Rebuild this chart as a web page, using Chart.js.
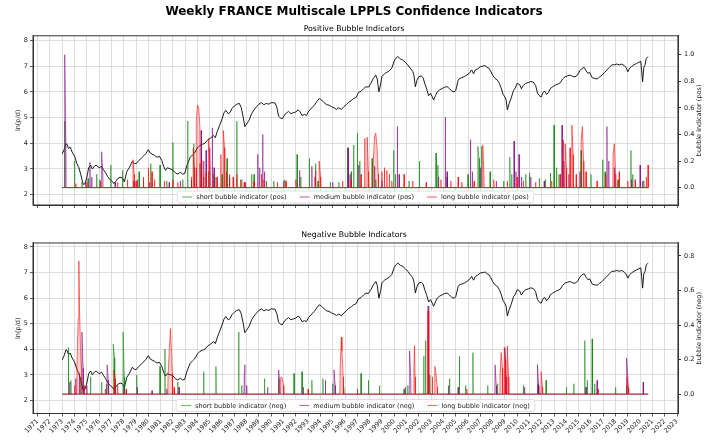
<!DOCTYPE html>
<html>
<head>
<meta charset="utf-8">
<script src="https://cdn.jsdelivr.net/npm/chart.js@4.4.1/dist/chart.umd.min.js"></script>
<style>
html, body { margin: 0; padding: 0; background: #fff; }
#wrap { position: relative; width: 708px; height: 440px; }
#c1 { position: absolute; left: 0; top: 0; }
#c2 { position: absolute; left: 0; top: 222px; }
</style>
</head>
<body>
<div id="wrap">
  <canvas id="c1" width="708" height="222"></canvas>
  <canvas id="c2" width="708" height="218"></canvas>
</div>
<script>
// tick labels
const yearTicks = [1971, 1972, 1973, 1974, 1975, 1976, 1977, 1978, 1979, 1980, 1981, 1982, 1983, 1984,
  1985, 1986, 1987, 1988, 1989, 1990, 1991, 1992, 1993, 1994, 1995, 1996, 1997, 1998, 1999, 2000,
  2001, 2002, 2003, 2004, 2005, 2006, 2007, 2008, 2009, 2010, 2011, 2012, 2013, 2014, 2015, 2016,
  2017, 2018, 2019, 2020, 2021, 2022, 2023];
const lnTicks = [2, 3, 4, 5, 6, 7, 8];
const posTicks = [0, 0.2, 0.4, 0.6, 0.8, 1.0];
const negTicks = [0, 0.2, 0.4, 0.6, 0.8];

// log price, [year, ln value]
const price = [
  [1973.0, 3.59], [1973.15, 3.75], [1973.3, 3.98], [1973.4, 3.95], [1973.5, 3.80], [1973.65, 3.85],
  [1973.8, 3.66], [1974.0, 3.50], [1974.2, 3.20], [1974.35, 3.05], [1974.5, 2.80], [1974.7, 2.40],
  [1974.85, 2.43], [1975.0, 2.68], [1975.15, 3.05], [1975.3, 3.15], [1975.45, 3.00], [1975.6, 3.10],
  [1975.75, 3.15], [1976.0, 3.05], [1976.2, 3.10], [1976.35, 2.98], [1976.5, 2.87], [1976.7, 2.70],
  [1976.85, 2.60], [1977.0, 2.55], [1977.2, 2.43], [1977.35, 2.52], [1977.5, 2.62], [1977.7, 2.68],
  [1977.9, 2.65], [1978.05, 2.50], [1978.25, 2.90], [1978.45, 3.05], [1978.7, 3.30], [1978.85, 3.22],
  [1979.0, 3.20], [1979.2, 3.32], [1979.4, 3.40], [1979.55, 3.48], [1979.8, 3.60], [1980.0, 3.75],
  [1980.15, 3.62], [1980.3, 3.58], [1980.5, 3.53], [1980.7, 3.46], [1980.9, 3.49], [1981.1, 3.33],
  [1981.25, 3.10], [1981.4, 2.95], [1981.55, 3.05], [1981.8, 3.00], [1982.0, 2.96], [1982.2, 2.85],
  [1982.4, 2.80], [1982.6, 2.87], [1982.8, 2.80], [1982.95, 2.82], [1983.15, 3.15], [1983.4, 3.45],
  [1983.6, 3.55], [1983.75, 3.62], [1984.0, 3.82], [1984.2, 3.92], [1984.4, 3.96], [1984.6, 4.00],
  [1984.8, 4.12], [1985.05, 4.20], [1985.3, 4.30], [1985.45, 4.22], [1985.6, 4.45], [1985.8, 4.70],
  [1986.0, 4.95], [1986.15, 5.18], [1986.3, 5.28], [1986.5, 5.15], [1986.65, 5.20], [1986.8, 5.35],
  [1987.0, 5.45], [1987.2, 5.52], [1987.4, 5.55], [1987.55, 5.40], [1987.7, 5.05], [1987.85, 4.65],
  [1988.0, 4.75], [1988.2, 4.90], [1988.4, 5.15], [1988.6, 5.30], [1988.8, 5.42], [1989.0, 5.52],
  [1989.2, 5.58], [1989.4, 5.50], [1989.6, 5.55], [1989.8, 5.52], [1990.0, 5.58], [1990.3, 5.57],
  [1990.45, 5.40], [1990.6, 5.05], [1990.75, 4.98], [1990.9, 4.96], [1991.1, 5.12], [1991.25, 5.18],
  [1991.4, 5.24], [1991.6, 5.15], [1991.75, 5.18], [1992.0, 5.22], [1992.2, 5.30], [1992.35, 5.22],
  [1992.5, 5.08], [1992.7, 5.12], [1992.85, 5.08], [1993.05, 5.25], [1993.3, 5.38], [1993.5, 5.48],
  [1993.7, 5.62], [1993.9, 5.74], [1994.1, 5.68], [1994.3, 5.58], [1994.5, 5.50], [1994.7, 5.48],
  [1994.9, 5.42], [1995.1, 5.38], [1995.3, 5.32], [1995.5, 5.38], [1995.7, 5.31], [1995.9, 5.42],
  [1996.1, 5.50], [1996.3, 5.60], [1996.5, 5.66], [1996.7, 5.74], [1996.9, 5.78], [1997.1, 5.98],
  [1997.3, 6.02], [1997.5, 6.12], [1997.7, 6.20], [1997.9, 6.18], [1998.1, 6.33], [1998.3, 6.52],
  [1998.5, 6.65], [1998.62, 6.50], [1998.75, 6.00], [1998.9, 6.30], [1999.0, 6.60], [1999.2, 6.70],
  [1999.4, 6.76], [1999.6, 6.82], [1999.8, 6.92], [2000.0, 7.20], [2000.15, 7.31], [2000.3, 7.37],
  [2000.5, 7.28], [2000.7, 7.24], [2000.9, 7.15], [2001.1, 7.05], [2001.3, 6.92], [2001.5, 6.80],
  [2001.6, 6.65], [2001.72, 6.20], [2001.85, 6.45], [2002.0, 6.59], [2002.2, 6.62], [2002.35, 6.55],
  [2002.5, 6.30], [2002.65, 6.10], [2002.8, 5.85], [2002.95, 5.94], [2003.1, 5.80], [2003.2, 5.68],
  [2003.35, 5.85], [2003.5, 6.00], [2003.7, 6.08], [2003.9, 6.13], [2004.1, 6.18], [2004.3, 6.20],
  [2004.5, 6.12], [2004.7, 6.02], [2004.9, 6.00], [2005.0, 6.05], [2005.2, 6.45], [2005.3, 6.52],
  [2005.5, 6.55], [2005.7, 6.59], [2005.9, 6.65], [2006.1, 6.72], [2006.3, 6.85], [2006.45, 6.70],
  [2006.6, 6.85], [2006.8, 6.90], [2007.0, 6.98], [2007.2, 7.00], [2007.4, 7.02], [2007.55, 6.95],
  [2007.7, 6.92], [2007.85, 6.80], [2008.0, 6.65], [2008.2, 6.52], [2008.4, 6.45], [2008.55, 6.33],
  [2008.7, 6.15], [2008.85, 5.90], [2009.0, 5.80], [2009.1, 5.68], [2009.2, 5.30], [2009.35, 5.55],
  [2009.5, 5.74], [2009.7, 6.05], [2009.85, 6.15], [2010.0, 6.33], [2010.2, 6.28], [2010.35, 6.12],
  [2010.5, 6.25], [2010.7, 6.33], [2010.9, 6.36], [2011.1, 6.40], [2011.3, 6.38], [2011.5, 6.25],
  [2011.65, 5.95], [2011.8, 5.85], [2011.95, 5.80], [2012.1, 5.98], [2012.25, 6.02], [2012.4, 5.90],
  [2012.55, 5.98], [2012.7, 6.13], [2012.9, 6.20], [2013.1, 6.26], [2013.3, 6.30], [2013.5, 6.35],
  [2013.7, 6.50], [2013.9, 6.59], [2014.1, 6.62], [2014.3, 6.65], [2014.5, 6.60], [2014.7, 6.58],
  [2014.9, 6.65], [2015.1, 6.82], [2015.3, 6.92], [2015.45, 6.95], [2015.6, 6.82], [2015.75, 6.72],
  [2015.9, 6.75], [2016.1, 6.55], [2016.3, 6.52], [2016.5, 6.50], [2016.7, 6.58], [2016.9, 6.65],
  [2017.1, 6.75], [2017.3, 6.85], [2017.5, 6.95], [2017.7, 7.05], [2017.9, 7.05], [2018.1, 7.08],
  [2018.3, 7.05], [2018.5, 7.08], [2018.7, 7.02], [2018.85, 6.95], [2019.0, 6.78], [2019.15, 6.92],
  [2019.3, 6.98], [2019.5, 7.05], [2019.7, 7.10], [2019.9, 7.15], [2020.05, 7.18], [2020.12, 6.85],
  [2020.2, 6.39], [2020.3, 6.95], [2020.4, 7.05], [2020.5, 7.30], [2020.6, 7.35], [2020.66, 7.37]
];

// positive bubble indicators, [year, value]
const posShort = [
  [1973.2, 0.50], [1974.0, 0.20], [1974.6, 0.04], [1975.1, 0.07], [1975.8, 0.10], [1976.05, 0.06],
  [1976.95, 0.17], [1977.9, 0.13], [1979.25, 0.12], [1979.6, 0.06], [1980.2, 0.18], [1980.95, 0.17],
  [1981.5, 0.05], [1982.0, 0.34], [1982.8, 0.06], [1983.2, 0.50], [1983.7, 0.33], [1984.2, 0.18],
  [1984.9, 0.12], [1985.5, 0.08], [1986.0, 0.10], [1986.4, 0.22], [1987.2, 0.50], [1987.6, 0.06],
  [1988.4, 0.10], [1988.6, 0.10], [1989.6, 0.05], [1990.2, 0.05], [1991.1, 0.06], [1992.1, 0.25],
  [1992.4, 0.08], [1993.1, 0.22], [1993.6, 0.18], [1993.8, 0.05], [1994.8, 0.04], [1995.5, 0.04],
  [1996.2, 0.30], [1996.5, 0.12], [1996.7, 0.32], [1997.0, 0.41], [1997.2, 0.20], [1998.2, 0.22],
  [1998.5, 0.06], [1999.95, 0.28], [2000.1, 0.10], [2001.2, 0.05], [2002.05, 0.20], [2003.4, 0.26],
  [2003.55, 0.17], [2004.3, 0.08], [2006.0, 0.10], [2006.8, 0.31], [2006.9, 0.22], [2007.1, 0.31],
  [2007.8, 0.12], [2008.9, 0.05], [2009.4, 0.23], [2009.55, 0.10], [2010.7, 0.10], [2011.0, 0.11],
  [2011.8, 0.07], [2012.3, 0.06], [2012.7, 0.11], [2013.0, 0.47], [2013.2, 0.15], [2013.4, 0.10],
  [2014.0, 0.08], [2015.2, 0.28], [2016.0, 0.10], [2016.95, 0.21], [2017.15, 0.12], [2018.2, 0.06],
  [2019.25, 0.28], [2019.4, 0.10], [2020.3, 0.05]
];
const posMedium = [
  [1973.2, 1.00], [1973.3, 0.30], [1974.9, 0.05], [1975.25, 0.19], [1975.4, 0.08], [1976.2, 0.27],
  [1976.3, 0.10], [1977.3, 0.04], [1978.8, 0.05], [1979.1, 0.06], [1980.1, 0.04], [1981.7, 0.04],
  [1982.6, 0.05], [1983.5, 0.06], [1983.9, 0.15], [1984.3, 0.43], [1984.5, 0.20], [1984.7, 0.28],
  [1985.0, 0.30], [1985.2, 0.45], [1985.35, 0.15], [1986.6, 0.08], [1987.9, 0.04], [1988.9, 0.25],
  [1989.05, 0.15], [1989.3, 0.40], [1989.45, 0.12], [1991.0, 0.05], [1992.3, 0.13], [1993.3, 0.16],
  [1993.55, 0.08], [1995.0, 0.04], [1996.25, 0.30], [1996.4, 0.10], [1997.1, 0.17], [1998.4, 0.16],
  [1999.0, 0.05], [2000.25, 0.46], [2000.4, 0.10], [2003.6, 0.08], [2004.15, 0.53], [2004.3, 0.12],
  [2006.2, 0.36], [2006.35, 0.12], [2007.0, 0.15], [2008.3, 0.05], [2009.75, 0.35], [2009.9, 0.12],
  [2010.15, 0.25], [2010.35, 0.08], [2011.1, 0.08], [2012.2, 0.05], [2013.65, 0.47], [2013.8, 0.20],
  [2014.2, 0.10], [2015.1, 0.12], [2017.3, 0.46], [2017.45, 0.20], [2017.9, 0.15], [2019.3, 0.06],
  [2020.0, 0.17], [2020.2, 0.05]
];
const posLong = [
  [1974.1, 0.03], [1975.0, 0.04], [1976.1, 0.05], [1977.5, 0.04], [1978.3, 0.06], [1978.75, 0.21],
  [1978.85, 0.10], [1979.0, 0.05], [1979.6, 0.08], [1980.0, 0.15], [1980.3, 0.12], [1980.5, 0.06],
  [1981.3, 0.05], [1982.0, 0.06], [1982.4, 0.04], [1983.5, 0.08], [1983.65, 0.30], [1983.75, 0.15],
  [1983.9, 0.50], [1984.0, 0.62], [1984.1, 0.60], [1984.2, 0.45], [1984.35, 0.21], [1984.5, 0.08],
  [1984.7, 0.12], [1984.9, 0.37], [1985.0, 0.15], [1985.3, 0.10], [1985.6, 0.08], [1985.9, 0.25],
  [1986.1, 0.43], [1986.2, 0.30], [1986.35, 0.12], [1986.6, 0.10], [1986.9, 0.08], [1987.2, 0.10],
  [1987.5, 0.06], [1987.8, 0.04], [1988.6, 0.05], [1989.2, 0.10], [1989.4, 0.06], [1990.5, 0.04],
  [1991.2, 0.05], [1992.0, 0.06], [1993.6, 0.13], [1993.9, 0.20], [1994.0, 0.08], [1995.8, 0.05],
  [1996.5, 0.06], [1997.3, 0.10], [1997.6, 0.37], [1997.8, 0.38], [1997.9, 0.12], [1998.3, 0.20],
  [1998.4, 0.39], [1998.5, 0.41], [1998.6, 0.30], [1998.7, 0.10], [1999.0, 0.12], [1999.2, 0.15],
  [1999.4, 0.13], [1999.6, 0.10], [1999.8, 0.05], [2000.8, 0.10], [2001.5, 0.05], [2002.6, 0.04],
  [2003.8, 0.06], [2004.6, 0.05], [2005.2, 0.08], [2005.5, 0.04], [2006.5, 0.05], [2007.2, 0.32],
  [2007.3, 0.10], [2008.1, 0.06], [2009.2, 0.05], [2010.0, 0.08], [2010.5, 0.05], [2011.5, 0.04],
  [2012.8, 0.05], [2013.5, 0.10], [2013.75, 0.36], [2013.9, 0.33], [2014.0, 0.15], [2014.3, 0.30],
  [2014.45, 0.47], [2014.55, 0.25], [2014.8, 0.10], [2015.2, 0.35], [2015.3, 0.46], [2015.4, 0.20],
  [2015.6, 0.12], [2016.5, 0.05], [2017.2, 0.10], [2017.8, 0.25], [2017.9, 0.33], [2018.0, 0.10],
  [2018.3, 0.12], [2019.0, 0.05], [2019.6, 0.06], [2020.5, 0.08], [2020.65, 0.17]
];

// negative bubble indicators, [year, value]
const negShort = [
  [1973.5, 0.27], [1973.7, 0.08], [1974.5, 0.10], [1975.3, 0.10], [1976.2, 0.07], [1976.6, 0.06],
  [1977.15, 0.29], [1977.25, 0.21], [1977.95, 0.36], [1978.05, 0.10], [1979.05, 0.11], [1980.95, 0.16],
  [1981.35, 0.26], [1982.4, 0.07], [1984.5, 0.13], [1985.5, 0.16], [1987.35, 0.36], [1987.6, 0.05],
  [1989.45, 0.09], [1990.6, 0.09], [1991.85, 0.12], [1992.5, 0.13], [1993.3, 0.08], [1994.2, 0.09],
  [1995.0, 0.06], [1995.9, 0.04], [1997.3, 0.12], [1997.9, 0.08], [1998.8, 0.05], [2000.8, 0.03],
  [2001.1, 0.05], [2002.4, 0.22], [2002.55, 0.31], [2002.9, 0.11], [2004.5, 0.09], [2005.3, 0.22],
  [2005.8, 0.05], [2006.4, 0.24], [2007.6, 0.05], [2008.4, 0.06], [2010.5, 0.05], [2011.7, 0.06],
  [2012.35, 0.08], [2014.0, 0.04], [2014.6, 0.06], [2015.5, 0.31], [2015.7, 0.08], [2016.1, 0.32],
  [2016.3, 0.06], [2018.0, 0.04], [2018.9, 0.05]
];
const negMedium = [
  [1973.6, 0.07], [1974.1, 0.09], [1974.4, 0.12], [1974.6, 0.36], [1974.7, 0.15], [1975.0, 0.05],
  [1976.65, 0.17], [1976.75, 0.08], [1977.3, 0.05], [1978.0, 0.04], [1979.1, 0.04], [1980.3, 0.02],
  [1981.5, 0.03], [1982.5, 0.04], [1987.8, 0.12], [1987.85, 0.17], [1988.0, 0.05], [1989.7, 0.04],
  [1990.6, 0.14], [1990.7, 0.06], [1992.6, 0.04], [1994.4, 0.08], [1995.1, 0.14], [1995.2, 0.05],
  [1997.0, 0.03], [2000.9, 0.04], [2001.25, 0.25], [2001.35, 0.08], [2002.75, 0.51], [2002.8, 0.20],
  [2004.4, 0.05], [2005.2, 0.04], [2008.2, 0.17], [2008.3, 0.05], [2009.0, 0.27], [2009.1, 0.10],
  [2010.6, 0.04], [2011.65, 0.17], [2011.75, 0.05], [2015.6, 0.04], [2016.5, 0.08], [2018.9, 0.21],
  [2019.0, 0.10], [2020.25, 0.07]
];
const negLong = [
  [1974.0, 0.05], [1974.2, 0.20], [1974.3, 0.44], [1974.35, 0.77], [1974.4, 0.50], [1974.5, 0.22],
  [1974.6, 0.10], [1974.8, 0.05], [1976.5, 0.03], [1977.2, 0.14], [1977.3, 0.09], [1977.5, 0.05],
  [1978.2, 0.03], [1981.6, 0.10], [1981.7, 0.25], [1981.8, 0.38], [1981.85, 0.30], [1981.95, 0.12],
  [1982.1, 0.04], [1990.7, 0.06], [1990.8, 0.10], [1990.9, 0.09], [1991.0, 0.05], [1993.0, 0.03],
  [1995.6, 0.15], [1995.7, 0.33], [1995.75, 0.25], [1995.85, 0.10], [2001.6, 0.15], [2001.65, 0.28],
  [2001.7, 0.10], [2002.7, 0.30], [2002.75, 0.48], [2002.8, 0.25], [2003.1, 0.10], [2003.3, 0.16],
  [2003.4, 0.12], [2003.5, 0.04], [2005.9, 0.03], [2008.6, 0.10], [2008.7, 0.24], [2008.8, 0.15],
  [2008.95, 0.27], [2009.05, 0.20], [2009.2, 0.28], [2009.3, 0.10], [2011.95, 0.13], [2012.05, 0.04],
  [2016.6, 0.03], [2018.95, 0.10], [2019.05, 0.04]
];

Chart.defaults.font.family = '"DejaVu Sans", sans-serif';
Chart.defaults.font.size = 6.5;
Chart.defaults.color = '#222';
Chart.defaults.animation = false;

const t0 = price[0][0];
const t1 = price[price.length - 1][0];

// indicator is zero between events; close events are joined into one hump
function spikeSeries(events) {
  const ev = events.slice().sort((a, b) => a[0] - b[0]);
  const w = 0.02, join = 0.12;
  const pts = [{ x: t0, y: 0 }];
  ev.forEach(([t, v], i) => {
    const prev = ev[i - 1], next = ev[i + 1];
    if (!prev || t - prev[0] > join) pts.push({ x: t - w, y: 0 });
    pts.push({ x: t, y: v });
    if (!next || next[0] - t > join) pts.push({ x: t + w, y: 0 });
  });
  pts.push({ x: t1, y: 0 });
  return pts;
}

function buildDatasets(short, medium, long, tag) {
  const spec = [
    ['short', short, '0,128,0', 3],
    ['medium', medium, '128,0,128', 2],
    ['long', long, '255,0,0', 1]
  ];
  const sets = spec.map(([name, ev, rgb, order]) => ({
    label: name + ' bubble indicator (' + tag + ')',
    data: spikeSeries(ev),
    yAxisID: 'y1',
    borderColor: 'rgba(' + rgb + ',0.55)',
    backgroundColor: 'rgba(' + rgb + ',0.18)',
    borderWidth: 1,
    fill: { value: 0 },
    pointRadius: 0,
    tension: 0,
    order
  }));
  sets.push({
    label: 'price',
    data: price.map(([x, y]) => ({ x, y })),
    yAxisID: 'y',
    borderColor: '#000',
    borderWidth: 0.9,
    pointRadius: 0,
    fill: false,
    tension: 0,
    order: 4
  });
  return sets;
}

const framePlugin = {
  id: 'frame',
  afterDraw(chart) {
    const a = chart.chartArea, ctx = chart.ctx;
    ctx.save();
    ctx.strokeStyle = '#333';
    ctx.lineWidth = 1;
    ctx.strokeRect(a.left, a.top, a.right - a.left, a.bottom - a.top);
    ctx.restore();
  }
};

const sideTitle = {
  id: 'sideTitle',
  afterDraw(chart, args, opts) {
    const a = chart.chartArea, ctx = chart.ctx;
    ctx.save();
    ctx.translate(699, (a.top + a.bottom) / 2);
    ctx.rotate(-Math.PI / 2);
    ctx.font = '6.5px "DejaVu Sans"';
    ctx.fillStyle = '#222';
    ctx.textAlign = 'center';
    ctx.textBaseline = 'middle';
    ctx.fillText(opts.text, 0, 0);
    ctx.restore();
  }
};

// matplotlib style legend box, lower center inside the axes
const boxLegend = {
  id: 'boxLegend',
  afterDatasetsDraw(chart) {
    const ctx = chart.ctx, a = chart.chartArea;
    const items = chart.data.datasets.filter(d => d.yAxisID === 'y1').sort((p, q) => q.order - p.order);
    ctx.save();
    ctx.font = '6.5px "DejaVu Sans"';
    const sample = 10, gap = 4, colGap = 13, pad = 5, h = 12;
    const widths = items.map(d => ctx.measureText(d.label).width);
    const total = pad * 2 + widths.reduce((s, w) => s + w + sample + gap, 0) + colGap * (items.length - 1);
    const left = (a.left + a.right) / 2 - total / 2;
    const top = a.bottom - h - 2;
    ctx.fillStyle = 'rgba(255,255,255,0.9)';
    ctx.strokeStyle = '#d5d5d5';
    ctx.lineWidth = 0.8;
    ctx.beginPath();
    ctx.roundRect(left, top, total, h, 2);
    ctx.fill();
    ctx.stroke();
    let x = left + pad;
    const cy = top + h / 2;
    ctx.textBaseline = 'middle';
    items.forEach((d, i) => {
      ctx.strokeStyle = d.borderColor;
      ctx.lineWidth = 1.2;
      ctx.beginPath();
      ctx.moveTo(x, cy);
      ctx.lineTo(x + sample, cy);
      ctx.stroke();
      ctx.fillStyle = '#222';
      ctx.fillText(d.label, x + sample + gap, cy + 0.5);
      x += sample + gap + widths[i] + colGap;
    });
    ctx.restore();
  }
};

function makeChart(id, opt) {
  return new Chart(document.getElementById(id), {
    type: 'line',
    data: { datasets: buildDatasets(opt.short, opt.medium, opt.long, opt.tag) },
    options: {
      responsive: false,
      devicePixelRatio: 1,
      animation: false,
      layout: { padding: 0 },
      plugins: {
        legend: { display: false },
        tooltip: { enabled: false },
        title: opt.title,
        subtitle: opt.subtitle,
        sideTitle: { text: 'bubble indicator (' + opt.tag + ')' }
      },
      scales: {
        x: {
          type: 'linear',
          min: 1970.62,
          max: 2023.08,
          afterBuildTicks: s => { s.ticks = yearTicks.map(v => ({ value: v })); },
          afterFit: s => { s.height = opt.xHeight; },
          grid: { color: '#d4d4d4', lineWidth: 0.8, tickLength: 3, tickColor: '#333' },
          border: { color: '#333' },
          ticks: {
            display: opt.showYears,
            autoSkip: false,
            minRotation: 45,
            maxRotation: 45,
            padding: 1,
            color: '#222',
            callback: v => String(v)
          }
        },
        y: {
          type: 'linear',
          position: 'left',
          min: opt.lnMin,
          max: opt.lnMax,
          afterBuildTicks: s => { s.ticks = lnTicks.map(v => ({ value: v })); },
          afterFit: s => { s.width = 33; },
          grid: { color: '#d4d4d4', lineWidth: 0.8, tickLength: 3, tickColor: '#333' },
          border: { color: '#333' },
          title: { display: true, text: 'ln(p/d)', font: { size: 6.5 }, padding: { top: 14, bottom: 0 } },
          ticks: { padding: 2, callback: v => String(v) }
        },
        y1: {
          type: 'linear',
          position: 'right',
          min: opt.bMin,
          max: opt.bMax,
          afterBuildTicks: s => { s.ticks = opt.bTicks.map(v => ({ value: v })); },
          afterFit: s => { s.width = 30; },
          grid: { drawOnChartArea: false, tickLength: 3, tickColor: '#333' },
          border: { color: '#333' },
          ticks: { padding: 3, callback: v => v.toFixed(1) }
        }
      }
    },
    plugins: [boxLegend, framePlugin, sideTitle]
  });
}

makeChart('c1', {
  short: posShort, medium: posMedium, long: posLong, tag: 'pos',
  title: {
    display: true,
    text: 'Weekly FRANCE Multiscale LPPLS Confidence Indicators',
    color: '#000',
    font: { size: 12, weight: 'bold' },
    padding: { top: 5, bottom: 4 }
  },
  subtitle: {
    display: true,
    text: 'Positive Bubble Indicators',
    color: '#000',
    font: { size: 7.8, weight: 'normal' },
    padding: { top: 1, bottom: 2 }
  },
  xHeight: 17, showYears: false,
  lnMin: 1.6, lnMax: 8.18, bMin: -0.131, bMax: 1.143, bTicks: posTicks
});

makeChart('c2', {
  short: negShort, medium: negMedium, long: negLong, tag: 'neg',
  title: {
    display: true,
    text: 'Negative Bubble Indicators',
    color: '#000',
    font: { size: 7.8, weight: 'normal' },
    padding: { top: 8.3, bottom: 3.3 }
  },
  subtitle: { display: false },
  xHeight: 26.5, showYears: true,
  lnMin: 1.49, lnMax: 8.156, bMin: -0.112, bMax: 0.875, bTicks: negTicks
});
</script>
</body>
</html>
